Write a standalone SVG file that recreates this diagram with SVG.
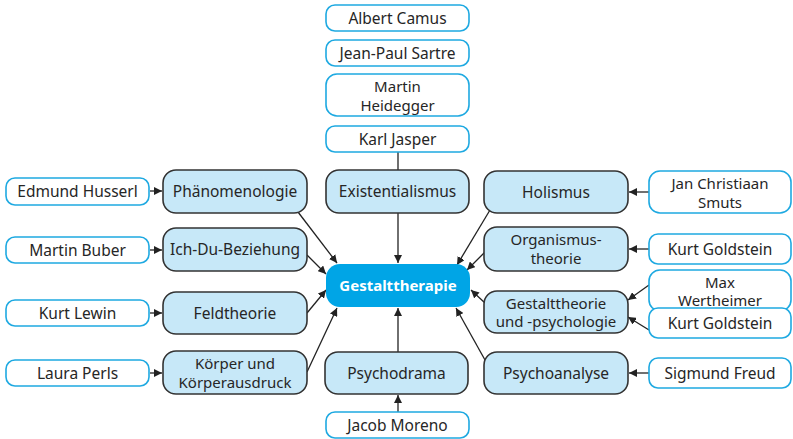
<svg xmlns="http://www.w3.org/2000/svg" width="793" height="439" viewBox="0 0 793 439">
<defs>
<marker id="ah" markerUnits="userSpaceOnUse" markerWidth="9" markerHeight="8" refX="8" refY="4" orient="auto">
<path d="M0,0 L8,4 L0,8 Z" fill="#222"/>
</marker>
<style>
.p rect{fill:#fff;stroke:#1ea9e1;stroke-width:1.6}
.t rect{fill:#c7e8f8;stroke:#333;stroke-width:1.6}
.c rect{fill:#00a5e6;stroke:none}
text{font-family:"Noto Sans","Open Sans",sans-serif;font-size:15.5px;fill:#262626;text-anchor:middle}
text.m{font-size:15px}
.c text{fill:#fff;font-weight:bold;font-size:15px}
#conn line{stroke:#222;stroke-width:1.3}
</style>
</defs>
<rect width="793" height="439" fill="#fff"/>
<g id="conn">
<line x1="398" y1="152" x2="398" y2="170"/>
<line x1="398" y1="213" x2="398" y2="263" marker-end="url(#ah)"/>
<line x1="398" y1="352" x2="398" y2="308" marker-end="url(#ah)"/>
<line x1="398" y1="412" x2="398" y2="395" marker-end="url(#ah)"/>
<line x1="150" y1="191" x2="162" y2="191" marker-end="url(#ah)"/>
<line x1="150" y1="250" x2="162" y2="250" marker-end="url(#ah)"/>
<line x1="150" y1="313" x2="162" y2="313" marker-end="url(#ah)"/>
<line x1="150" y1="373" x2="162" y2="373" marker-end="url(#ah)"/>
<line x1="649" y1="192" x2="629" y2="192" marker-end="url(#ah)"/>
<line x1="649" y1="249" x2="629" y2="249" marker-end="url(#ah)"/>
<line x1="649" y1="285" x2="628" y2="300" marker-end="url(#ah)"/>
<line x1="649" y1="330" x2="628" y2="317" marker-end="url(#ah)"/>
<line x1="649" y1="373" x2="629" y2="373" marker-end="url(#ah)"/>
<line x1="298" y1="212" x2="337" y2="263" marker-end="url(#ah)"/>
<line x1="307" y1="255" x2="326" y2="274" marker-end="url(#ah)"/>
<line x1="307" y1="313" x2="326" y2="290" marker-end="url(#ah)"/>
<line x1="307" y1="372" x2="337" y2="308" marker-end="url(#ah)"/>
<line x1="490" y1="210" x2="457" y2="265" marker-end="url(#ah)"/>
<line x1="485" y1="252" x2="467" y2="270" marker-end="url(#ah)"/>
<line x1="485" y1="303" x2="471" y2="290" marker-end="url(#ah)"/>
<line x1="485" y1="360" x2="456" y2="308" marker-end="url(#ah)"/>
</g>
<g id="albert-camus" class="p"><rect x="326" y="5" width="143" height="26" rx="9"/><text x="397.5" y="23.5">Albert Camus</text></g>
<g id="jean-paul-sartre" class="p"><rect x="326" y="40" width="143" height="26" rx="9"/><text x="397.5" y="58.5">Jean-Paul Sartre</text></g>
<g id="martin-heidegger" class="p"><rect x="326" y="74" width="143" height="42" rx="11"/><text class="m" x="397.5" y="92">Martin</text><text class="m" x="397.5" y="110.5">Heidegger</text></g>
<g id="karl-jasper" class="p"><rect x="326" y="126" width="143" height="26" rx="9"/><text x="397.5" y="144.5">Karl Jasper</text></g>
<g id="existentialismus" class="t"><rect x="326" y="170" width="143" height="43" rx="13"/><text x="397.5" y="197">Existentialismus</text></g>
<g id="gestalttherapie" class="c"><rect x="326" y="264" width="144" height="43" rx="14"/><text x="398" y="291">Gestalttherapie</text></g>
<g id="psychodrama" class="t"><rect x="325" y="352" width="143" height="42" rx="13"/><text x="396.5" y="379">Psychodrama</text></g>
<g id="jacob-moreno" class="p"><rect x="326" y="412" width="143" height="26" rx="9"/><text x="397.5" y="430.5">Jacob Moreno</text></g>
<g id="edmund-husserl" class="p"><rect x="6" y="178" width="143" height="27" rx="9"/><text x="77.5" y="197">Edmund Husserl</text></g>
<g id="martin-buber" class="p"><rect x="6" y="237" width="143" height="26" rx="9"/><text x="77.5" y="255.5">Martin Buber</text></g>
<g id="kurt-lewin" class="p"><rect x="6" y="300" width="143" height="26" rx="9"/><text x="77.5" y="318.5">Kurt Lewin</text></g>
<g id="laura-perls" class="p"><rect x="6" y="360" width="143" height="26" rx="9"/><text x="77.5" y="378.5">Laura Perls</text></g>
<g id="phaenomenologie" class="t"><rect x="163" y="170" width="144" height="43" rx="13"/><text x="235" y="197">Phänomenologie</text></g>
<g id="ich-du-beziehung" class="t"><rect x="163" y="228" width="144" height="43" rx="13"/><text x="235" y="255">Ich-Du-Beziehung</text></g>
<g id="feldtheorie" class="t"><rect x="163" y="292" width="144" height="42" rx="13"/><text x="235" y="318.5">Feldtheorie</text></g>
<g id="koerper" class="t"><rect x="163" y="351" width="144" height="43" rx="13"/><text class="m" x="235" y="369">Körper und</text><text class="m" x="235" y="387.5">Körperausdruck</text></g>
<g id="holismus" class="t"><rect x="484" y="171" width="144" height="42" rx="13"/><text x="556" y="197.5">Holismus</text></g>
<g id="organismustheorie" class="t"><rect x="484" y="227" width="144" height="44" rx="13"/><text class="m" x="556" y="245">Organismus-</text><text class="m" x="556" y="263.5">theorie</text></g>
<g id="gestalttheorie" class="t"><rect x="484" y="291" width="144" height="42" rx="13"/><text class="m" x="556" y="308.5">Gestalttheorie</text><text class="m" x="556" y="327">und -psychologie</text></g>
<g id="psychoanalyse" class="t"><rect x="484" y="352" width="144" height="42" rx="13"/><text x="556" y="378.5">Psychoanalyse</text></g>
<g id="jan-christiaan-smuts" class="p"><rect x="649" y="171" width="142" height="42" rx="11"/><text class="m" x="720" y="189">Jan Christiaan</text><text class="m" x="720" y="207.5">Smuts</text></g>
<g id="kurt-goldstein-1" class="p"><rect x="649" y="234" width="142" height="30" rx="9"/><text x="720" y="254.5">Kurt Goldstein</text></g>
<g id="max-wertheimer" class="p"><rect x="649" y="270" width="142" height="41" rx="11"/><text class="m" x="720" y="287.5">Max</text><text class="m" x="720" y="306">Wertheimer</text></g>
<g id="kurt-goldstein-2" class="p"><rect x="649" y="308" width="142" height="30" rx="9"/><text x="720" y="329">Kurt Goldstein</text></g>
<g id="sigmund-freud" class="p"><rect x="649" y="358" width="142" height="30" rx="9"/><text x="720" y="378.5">Sigmund Freud</text></g>
</svg>
